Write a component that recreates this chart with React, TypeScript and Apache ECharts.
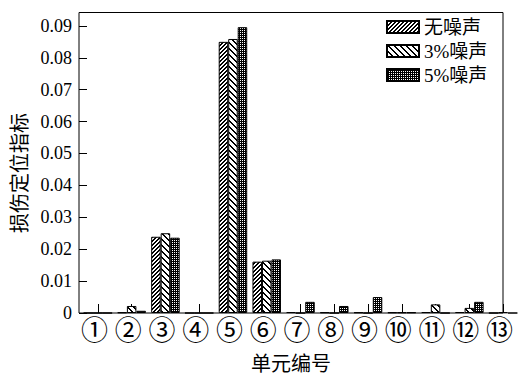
import React, { useEffect, useRef } from 'react';
import * as echarts from 'echarts';

const categories = ['①', '②', '③', '④', '⑤', '⑥', '⑦', '⑧', '⑨', '⑩', '⑪', '⑫', '⑬'];
const seriesNames = ['无噪声', '3%噪声', '5%噪声'];
const noNoise = [0, 0.0002, 0.0239, 0, 0.0850, 0.0161, 0.0003, 0.0002, 0.0002, 0.0002, 0.0003, 0.0003, 0];
const noise3 = [0, 0.0022, 0.0250, 0, 0.0859, 0.0164, 0, 0, 0, 0.0002, 0.0027, 0.0016, 0.0002];
const noise5 = [0, 0.0007, 0.0236, 0, 0.0896, 0.0168, 0.0035, 0.0022, 0.0050, 0.0002, 0, 0.0035, 0];
const yMax = 0.0942;
const yInterval = 0.01;
const xName = '单元编号';
const yName = '损伤定位指标';

function makePattern(size: number, isBlack: (x: number, y: number) => boolean) {
  const c = document.createElement('canvas');
  c.width = size;
  c.height = size;
  const ctx = c.getContext('2d')!;
  const img = ctx.createImageData(size, size);
  for (let y = 0; y < size; y++) {
    for (let x = 0; x < size; x++) {
      const v = isBlack(x, y) ? 0 : 255;
      const i = (y * size + x) * 4;
      img.data[i] = v;
      img.data[i + 1] = v;
      img.data[i + 2] = v;
      img.data[i + 3] = 255;
    }
  }
  ctx.putImageData(img, 0, 0);
  return { image: c.toDataURL(), repeat: 'repeat', imageWidth: size, imageHeight: size } as any;
}

export default function App() {
  const ref = useRef<HTMLDivElement>(null);
  useEffect(() => {
    if (!ref.current) return;
    document.body.style.margin = '0';
    const chart = echarts.init(ref.current, undefined, { renderer: 'svg' });
    const p1 = makePattern(4, (x, y) => (x + y) % 4 < 2);
    const p2 = makePattern(6, (x, y) => (((x - y) % 6) + 6) % 6 < 2);
    const p3 = makePattern(2, (x, y) => !(x === 0 && y === 0));
    const patterns = [p1, p2, p3];
    const datas = [noNoise, noise3, noise5];
    const serif = 'Liberation Serif, Times New Roman, Noto Sans CJK SC, serif';
    chart.setOption({
      animation: false,
      backgroundColor: '#fff',
      grid: [
        { left: 81, width: 439, top: 12.5, bottom: 66 },
        { left: 79, right: 17, top: 12.5, bottom: 66, show: true, borderColor: '#000', borderWidth: 1, backgroundColor: 'transparent' },
      ],
      legend: {
        orient: 'vertical',
        left: 386,
        top: 17,
        padding: 0,
        itemWidth: 32,
        itemHeight: 12,
        itemGap: 4,
        icon: 'rect',
        data: seriesNames,
        textStyle: { fontFamily: serif, fontSize: 19, color: '#000', lineHeight: 20 },
      },
      xAxis: [
        {
          type: 'category',
          gridIndex: 0,
          data: categories,
          axisLine: { show: false },
          axisTick: { show: true, inside: true, length: 9, alignWithLabel: true, lineStyle: { color: '#000' } },
          axisLabel: {
            interval: 0,
            fontFamily: 'Noto Sans CJK JP',
            fontSize: 27,
            color: '#000',
            margin: 2,
            padding: [0, 7, 0, 0],
          },
        },
        {
          type: 'value',
          gridIndex: 1,
          min: 0,
          max: 1,
          axisLine: { show: false },
          axisTick: { show: false },
          axisLabel: { show: false },
          splitLine: { show: false },
          name: xName,
          nameLocation: 'middle',
          nameGap: 39,
          nameTextStyle: { fontFamily: 'Noto Sans CJK SC', fontSize: 20, color: '#000' },
        },
      ],
      yAxis: [
        {
          type: 'value',
          gridIndex: 0,
          min: 0,
          max: yMax,
          show: false,
          splitLine: { show: false },
        },
        {
          type: 'value',
          gridIndex: 1,
          min: 0,
          max: yMax,
          interval: yInterval,
          axisLine: { show: false },
          axisTick: { show: true, inside: true, length: 8, lineStyle: { color: '#000' } },
          splitLine: { show: false },
          axisLabel: {
            showMaxLabel: false,
            fontFamily: serif,
            fontSize: 18,
            color: '#000',
            margin: 7,
            formatter: (v: number) => (v === 0 ? '0' : v.toFixed(2)),
          },
        },
      ],
      graphic: [
        {
          type: 'text',
          x: 18,
          y: 173,
          rotation: Math.PI / 2,
          style: {
            text: yName,
            font: '20px Noto Sans CJK SC',
            fill: '#000',
            align: 'center',
            verticalAlign: 'middle',
          },
        },
      ],
      series: seriesNames.map((name, i) => ({
        name,
        type: 'bar',
        xAxisIndex: 0,
        yAxisIndex: 0,
        data: datas[i],
        barWidth: 9.5,
        barGap: '0%',
        itemStyle: { color: patterns[i], borderColor: '#000', borderWidth: 1 },
      })),
    });
    return () => chart.dispose();
  }, []);
  return <div ref={ref} style={{ width: 520, height: 379 }} />;
}
